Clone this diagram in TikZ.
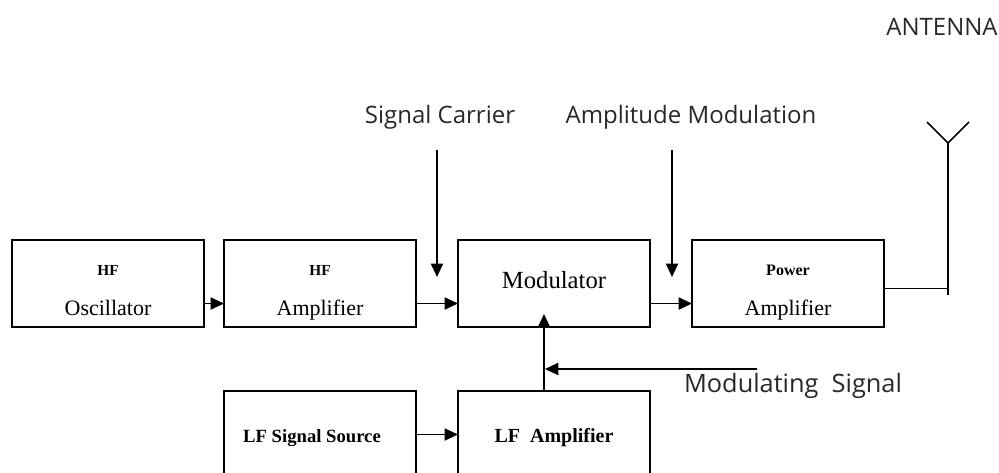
\documentclass[tikz,border=0pt]{standalone}
\usepackage{fontspec}
\setmainfont{Liberation Serif}
\newfontfamily\notefont{Open Sans}
\usepackage{xcolor}
\usetikzlibrary{arrows.meta,positioning}
\definecolor{notegray}{RGB}{40,40,40}

\begin{document}
\begin{tikzpicture}[
  x=0.75pt, y=-0.75pt,
  node distance=48pt and 31.5pt,
  box/.style={draw, line width=1.4pt, minimum width=144pt, minimum height=65.25pt,
              outer sep=0pt, inner sep=2pt, align=center},
  twoline/.style={box, font=\fontsize{16.5}{30}\selectfont, text height=48.5pt, text depth=0pt},
  small/.style={box, font=\fontsize{14}{17}\selectfont\bfseries, text height=15.5pt, text depth=3.5pt},
  note/.style={anchor=base, inner sep=0pt, text=notegray,
               font=\notefont\fontsize{18}{22}\selectfont},
  arrow/.style={-{Triangle[length=10pt, width=9pt]}, line width=1.4pt},
  wire/.style={line width=1.1pt}
]
  \useasboundingbox (0,0) rectangle (999,472);
  \clip (0,0) rectangle (999,472);

  % transmitter chain
  \node[twoline] (osc) at (108,283.5) {{\fontsize{11.5}{12}\selectfont\bfseries HF}\\Oscillator};
  \node[twoline, right=15pt of osc] (hfamp) {{\fontsize{11.5}{12}\selectfont\bfseries HF}\\Amplifier};
  \node[box, font=\fontsize{18.5}{22}\selectfont, text depth=6pt, right=of hfamp] (mod) {Modulator};
  \node[twoline, right=of mod] (power) {{\fontsize{12}{12}\selectfont\bfseries Power}\\Amplifier};

  % low frequency branch
  \node[small, below=of hfamp] (lfsrc) {LF Signal Source\hspace{12pt}};
  \node[small, font=\fontsize{15}{17}\selectfont\bfseries, below=of mod] (lfamp) {LF\ \ Amplifier};

  % labels
  \node[note] (antenna) at (942,35) {ANTENNA};
  \node[note] (carrier) at (440,123) {Signal Carrier};
  \node[note] (ammod) at (691,123) {Amplitude Modulation};
  \node[note, font=\notefont\fontsize{19}{22}\selectfont] (modsig) at (793,392) {Modulating\ \ Signal};

  \coordinate (carrierin) at (437,150);
  \coordinate (carrierout) at (437,277);
  \coordinate (ammodin) at (672,150);
  \coordinate (ammodout) at (672,277);
  \coordinate (modsigin) at (757,369);
  \coordinate (lfup) at ([xshift=-7.5pt]lfamp.north);
  \coordinate (antfoot) at (948,295);
  \coordinate (antjoint) at (948,143);
  \coordinate (antleft) at (927,122);
  \coordinate (antright) at (969,122);

  \draw[arrow] ([yshift=-15pt]osc.east) -- ([yshift=-15pt]hfamp.west);
  \draw[arrow] ([yshift=-15pt]hfamp.east) -- ([yshift=-15pt]mod.west);
  \draw[arrow] ([yshift=-15pt]mod.east) -- ([yshift=-15pt]power.west);
  \draw[arrow] (carrierin) -- (carrierout);
  \draw[arrow] (ammodin) -- (ammodout);
  \draw[arrow] (lfsrc) -- (lfamp);
  \draw[arrow] (lfup) -- ([xshift=-7.5pt, yshift=9.75pt]mod.south);
  \draw[arrow, shorten >=0.7pt] (modsigin) -- (modsigin -| lfup);

  % antenna
  \draw[wire] ([yshift=-3.75pt]power.east) -- ([yshift=-3.75pt]power.east -| antfoot);
  \draw[wire] (antfoot) -- (antjoint);
  \draw[wire] (antleft) -- (antjoint) -- (antright);
\end{tikzpicture}
\end{document}
